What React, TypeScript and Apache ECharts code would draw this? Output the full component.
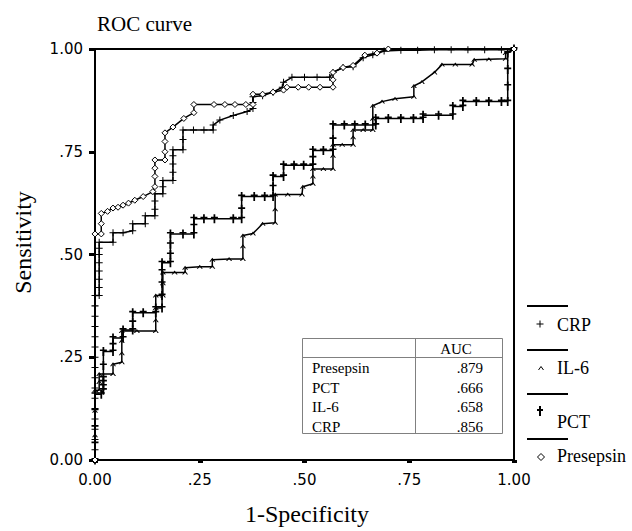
import React, { useEffect, useRef } from "react";
import * as echarts from "echarts";

const tickLabels = ["0.00", ".25", ".50", ".75", "1.00"];

const legendNames = ["CRP", "IL-6", "PCT", "Presepsin"];

const aucLabels = ["Presepsin", "PCT", "IL-6", "CRP"];
const aucValues = [".879", ".666", ".658", ".856"];

const crpPoints = [
  [0, 0], [0, 0.025], [0, 0.05], [0, 0.075], [0, 0.1], [0, 0.125], [0, 0.15], [0, 0.175], [0, 0.2],
  [0, 0.225], [0, 0.25], [0, 0.275], [0, 0.3], [0, 0.325], [0, 0.35], [0, 0.375], [0, 0.4],
  [0.01, 0.4], [0.01, 0.42], [0.01, 0.44], [0.01, 0.46], [0.01, 0.48], [0.01, 0.5], [0.01, 0.515], [0.01, 0.53],
  [0.043, 0.53], [0.043, 0.553], [0.067, 0.553], [0.09, 0.558], [0.09, 0.575], [0.12, 0.575],
  [0.12, 0.594], [0.143, 0.594], [0.143, 0.61], [0.143, 0.63], [0.143, 0.648], [0.162, 0.648],
  [0.162, 0.665], [0.162, 0.68], [0.186, 0.68], [0.186, 0.7], [0.186, 0.72], [0.186, 0.74],
  [0.186, 0.755], [0.21, 0.755], [0.21, 0.78], [0.21, 0.803], [0.235, 0.803], [0.26, 0.803],
  [0.282, 0.803], [0.282, 0.815], [0.298, 0.827], [0.33, 0.838], [0.363, 0.848], [0.377, 0.855],
  [0.377, 0.87], [0.377, 0.884], [0.4, 0.886], [0.425, 0.895], [0.447, 0.907], [0.45, 0.919],
  [0.47, 0.931], [0.5, 0.931], [0.53, 0.931], [0.56, 0.931], [0.568, 0.943], [0.592, 0.955],
  [0.616, 0.957], [0.64, 0.979], [0.663, 0.986], [0.69, 0.995], [0.73, 0.997], [0.77, 0.997],
  [0.81, 0.998], [0.85, 0.998], [0.89, 0.998], [0.93, 0.998], [0.97, 0.998], [1, 1],
];

const il6Points = [
  [0, 0], [0, 0.06], [0, 0.12], [0, 0.17], [0.01, 0.17], [0.01, 0.19], [0.01, 0.209],
  [0.043, 0.209], [0.043, 0.233], [0.064, 0.238], [0.064, 0.26], [0.064, 0.29], [0.064, 0.314],
  [0.1, 0.314], [0.145, 0.314], [0.145, 0.34], [0.145, 0.37], [0.145, 0.4], [0.162, 0.4],
  [0.162, 0.43], [0.162, 0.456], [0.19, 0.456], [0.215, 0.456], [0.215, 0.468], [0.25, 0.47],
  [0.28, 0.47], [0.28, 0.487], [0.32, 0.489], [0.353, 0.489], [0.353, 0.52], [0.353, 0.546],
  [0.377, 0.551], [0.4, 0.575], [0.43, 0.577], [0.43, 0.61], [0.43, 0.646], [0.46, 0.646],
  [0.494, 0.646], [0.496, 0.665], [0.52, 0.672], [0.52, 0.69], [0.52, 0.708], [0.545, 0.708],
  [0.568, 0.708], [0.568, 0.74], [0.568, 0.767], [0.59, 0.767], [0.616, 0.767], [0.616, 0.785],
  [0.616, 0.803], [0.64, 0.803], [0.663, 0.803], [0.663, 0.83], [0.663, 0.862], [0.685, 0.872],
  [0.716, 0.879], [0.761, 0.884], [0.761, 0.91], [0.78, 0.92], [0.81, 0.943], [0.828, 0.962],
  [0.86, 0.962], [0.9, 0.962], [0.905, 0.974], [0.94, 0.975], [0.98, 0.976], [0.98, 0.99], [1, 1],
];

const pctPoints = [
  [0, 0], [0, 0.04], [0, 0.08], [0, 0.12], [0, 0.16], [0.015, 0.16], [0.02, 0.17], [0.02, 0.18], [0.02, 0.19],
  [0.02, 0.2], [0.02, 0.23], [0.02, 0.264], [0.043, 0.264], [0.043, 0.28], [0.043, 0.297],
  [0.067, 0.297], [0.067, 0.316], [0.09, 0.316], [0.09, 0.335], [0.09, 0.358], [0.115, 0.358],
  [0.145, 0.358], [0.145, 0.37], [0.16, 0.37], [0.16, 0.4], [0.16, 0.43], [0.16, 0.46],
  [0.16, 0.48], [0.18, 0.48], [0.18, 0.5], [0.18, 0.525], [0.18, 0.55], [0.21, 0.55],
  [0.236, 0.55], [0.236, 0.57], [0.236, 0.587], [0.26, 0.587], [0.285, 0.587], [0.33, 0.587],
  [0.35, 0.587], [0.35, 0.61], [0.35, 0.641], [0.38, 0.641], [0.405, 0.641], [0.425, 0.641],
  [0.425, 0.665], [0.425, 0.69], [0.45, 0.69], [0.45, 0.717], [0.475, 0.717], [0.498, 0.717],
  [0.52, 0.717], [0.52, 0.735], [0.52, 0.753], [0.545, 0.753], [0.568, 0.753], [0.568, 0.78],
  [0.568, 0.815], [0.595, 0.815], [0.62, 0.815], [0.645, 0.815], [0.67, 0.815], [0.67, 0.831],
  [0.7, 0.831], [0.73, 0.831], [0.76, 0.831], [0.783, 0.831], [0.783, 0.839], [0.82, 0.839],
  [0.854, 0.839], [0.854, 0.86], [0.878, 0.86], [0.878, 0.872], [0.91, 0.872], [0.94, 0.872],
  [0.97, 0.872], [0.985, 0.872], [0.985, 0.91], [0.985, 0.95], [0.985, 0.99], [1, 1],
];

const presepsinPoints = [
  [0, 0], [0, 0.55], [0.015, 0.55],
  [0.015, 0.575], [0.015, 0.6], [0.03, 0.605], [0.043, 0.613], [0.055, 0.615], [0.067, 0.62],
  [0.08, 0.625], [0.095, 0.632], [0.115, 0.641], [0.138, 0.653], [0.143, 0.665], [0.143, 0.69],
  [0.143, 0.71], [0.143, 0.73], [0.167, 0.73], [0.167, 0.75], [0.167, 0.775], [0.167, 0.796],
  [0.186, 0.81], [0.212, 0.831], [0.236, 0.845], [0.236, 0.865], [0.284, 0.865], [0.31, 0.865],
  [0.334, 0.865], [0.36, 0.865], [0.377, 0.865], [0.377, 0.89], [0.4, 0.89], [0.425, 0.895],
  [0.45, 0.9], [0.458, 0.907], [0.485, 0.907], [0.51, 0.907], [0.537, 0.907], [0.568, 0.907],
  [0.568, 0.925], [0.568, 0.943], [0.592, 0.955], [0.616, 0.96], [0.644, 0.985], [0.673, 0.99],
  [0.7, 1.0], [1, 1],
];

const CRP_ICON = "path://M3,0H4V3H7V4H4V7H3V4H0V3H3Z";
const PCT_ICON = "path://M3,0H5V3H8V5H5V11H3V5H0V3H3Z";
const IL6_ICON = "path://M0,4L3,0L6,4H4.8L3,1.6L1.2,4Z";

const SERIF = "Liberation Serif";
const SANS = "DejaVu Sans";

export default function App() {
  const ref = useRef<HTMLDivElement>(null);

  useEffect(() => {
    if (!ref.current) return;
    const chart = echarts.init(ref.current, null, { renderer: "svg" });

    const lineStyle = { color: "#000", width: 1.5 };
    const black = { fill: "#000" };

    const graphics: any[] = [];
    // legend: separator lines
    [306, 350, 394, 439].forEach((y) => {
      graphics.push({
        type: "line",
        shape: { x1: 527, y1: y, x2: 568, y2: y },
        style: { stroke: "#000", lineWidth: 2 },
      });
    });
    // legend markers
    graphics.push({ type: "rect", shape: { x: 536.5, y: 323.5, width: 7, height: 1 }, style: black });
    graphics.push({ type: "rect", shape: { x: 539.5, y: 320.5, width: 1, height: 7 }, style: black });
    graphics.push({
      type: "polyline",
      shape: { points: [[538.5, 370], [541, 366.5], [543.5, 370]] },
      style: { stroke: "#000", lineWidth: 1, fill: null },
    });
    graphics.push({ type: "rect", shape: { x: 539, y: 406, width: 2, height: 10 }, style: black });
    graphics.push({ type: "rect", shape: { x: 537, y: 409, width: 6, height: 2 }, style: black });
    graphics.push({
      type: "polygon",
      shape: { points: [[541, 453.5], [544.5, 457], [541, 460.5], [537.5, 457]] },
      style: { stroke: "#000", lineWidth: 1, fill: "#fff" },
    });
    // legend labels
    const legendTextYs = [325, 368, 422, 456];
    legendNames.forEach((n, i) => {
      graphics.push({
        type: "text",
        x: 557,
        y: legendTextYs[i],
        style: { text: n, fill: "#000", font: `18px "${SERIF}"`, align: "left", verticalAlign: "middle" },
      });
    });

    // AUC table
    graphics.push({
      type: "rect",
      shape: { x: 302.5, y: 338.5, width: 200, height: 95 },
      style: { fill: "#fff", stroke: "#808080", lineWidth: 1 },
      z: 10,
    });
    graphics.push({
      type: "line",
      shape: { x1: 302.5, y1: 357.5, x2: 502.5, y2: 357.5 },
      style: { stroke: "#808080", lineWidth: 1 },
      z: 11,
    });
    graphics.push({
      type: "line",
      shape: { x1: 415.5, y1: 338.5, x2: 415.5, y2: 433.5 },
      style: { stroke: "#808080", lineWidth: 1 },
      z: 11,
    });
    graphics.push({
      type: "text",
      x: 456,
      y: 349,
      z: 11,
      style: { text: "AUC", fill: "#000", font: `15px "${SERIF}"`, align: "center", verticalAlign: "middle" },
    });
    aucLabels.forEach((lab, i) => {
      const y = 368 + i * 19.7;
      graphics.push({
        type: "text",
        x: 312,
        y,
        z: 11,
        style: { text: lab, fill: "#000", font: `15px "${SERIF}"`, align: "left", verticalAlign: "middle" },
      });
      graphics.push({
        type: "text",
        x: 483,
        y,
        z: 11,
        style: { text: aucValues[i], fill: "#000", font: `15px "${SERIF}"`, align: "right", verticalAlign: "middle" },
      });
    });

    const tickFmt = (v: number) => tickLabels[Math.round(v / 0.25)];

    const option: any = {
      animation: false,
      backgroundColor: "#fff",
      textStyle: { fontFamily: SERIF },
      title: {
        text: "ROC curve",
        left: 97,
        top: 13,
        padding: 0,
        textStyle: { fontFamily: SERIF, fontSize: 21, fontWeight: "normal", color: "#000" },
      },
      grid: {
        left: 95,
        right: 118,
        top: 49,
        bottom: 61,
        show: true,
        borderColor: "#000",
        borderWidth: 2,
        backgroundColor: "transparent",
      },
      xAxis: {
        type: "value",
        min: 0,
        max: 1,
        interval: 0.25,
        name: "1-Specificity",
        nameLocation: "middle",
        nameGap: 42,
        nameTextStyle: { fontFamily: SERIF, fontSize: 24, color: "#000", padding: [0, 0, 0, 5] },
        axisLine: { show: true, lineStyle: { color: "#000", width: 2 } },
        axisTick: { show: true, inside: false, length: 3, lineStyle: { color: "#000", width: 5 } },
        axisLabel: { margin: 12, fontFamily: SANS, fontSize: 15, color: "#000", formatter: tickFmt },
        splitLine: { show: false },
      },
      yAxis: {
        type: "value",
        min: 0,
        max: 1,
        interval: 0.25,
        name: "Sensitivity",
        nameLocation: "middle",
        nameGap: 60,
        nameTextStyle: { fontFamily: SERIF, fontSize: 24, color: "#000", padding: [0, 0, 0, 24] },
        axisLine: { show: true, lineStyle: { color: "#000", width: 2 } },
        axisTick: { show: true, inside: false, length: 6, lineStyle: { color: "#000", width: 3 } },
        axisLabel: { margin: 12, fontFamily: SANS, fontSize: 15, color: "#000", formatter: tickFmt },
        splitLine: { show: false },
      },
      series: [
        {
          name: legendNames[0],
          type: "line",
          data: crpPoints,
          symbol: CRP_ICON,
          symbolSize: [7, 7],
          lineStyle,
          itemStyle: { color: "#000" },
          z: 3,
        },
        {
          name: legendNames[1],
          type: "line",
          data: il6Points,
          symbol: IL6_ICON,
          symbolSize: [6, 4],
          lineStyle,
          itemStyle: { color: "#000" },
          z: 3,
        },
        {
          name: legendNames[2],
          type: "line",
          data: pctPoints,
          symbol: PCT_ICON,
          symbolSize: [7, 9],
          lineStyle,
          itemStyle: { color: "#000" },
          z: 3,
        },
        {
          name: legendNames[3],
          type: "line",
          data: presepsinPoints,
          symbol: "diamond",
          symbolSize: 6,
          lineStyle,
          itemStyle: { color: "#fff", borderColor: "#000", borderWidth: 1 },
          z: 4,
        },
      ],
      graphic: graphics,
    };

    chart.setOption(option);
    return () => chart.dispose();
  }, []);

  return (
    <div
      ref={ref}
      style={{ position: "absolute", left: 0, top: 0, width: 632, height: 531, background: "#fff" }}
    />
  );
}
